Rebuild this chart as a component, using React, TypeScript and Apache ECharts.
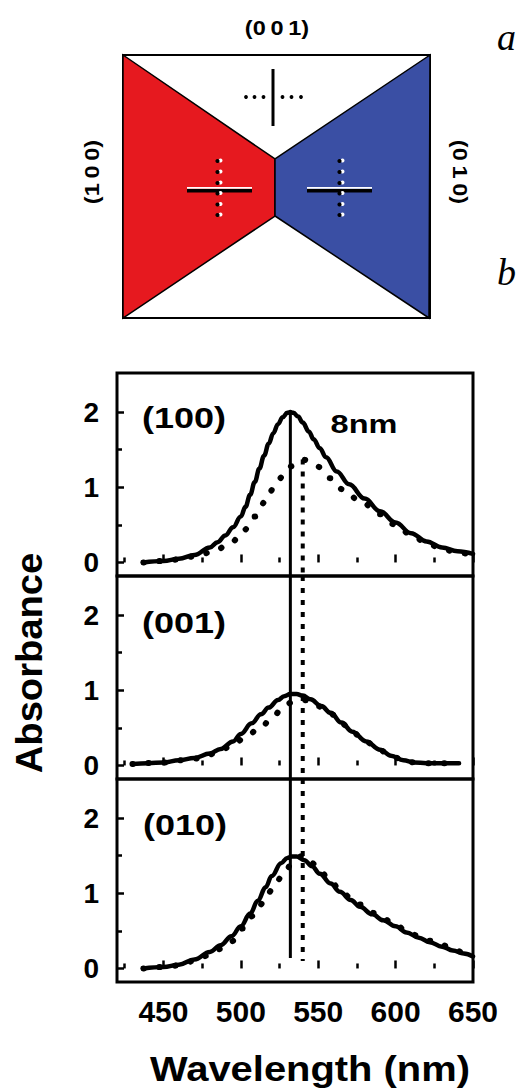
import { useEffect, useRef } from "react";
import * as echarts from "echarts";

// ---- axis settings ----
const X_MIN = 420;
const X_MAX = 650;
const Y_MIN = -0.18;
const Y_MAX = 2.52;
const X_MAJOR = [450, 500, 550, 600, 650];
const X_MINOR = [425, 475, 525, 575, 625];
const Y_MAJOR = [0, 1, 2];
const Y_MINOR = [0.5, 1.5];

const PANEL_LABELS = ["(100)", "(001)", "(010)"];
const SHIFT_LABEL = "8nm";
const X_TITLE = "Wavelength (nm)";
const Y_TITLE = "Absorbance";

// ---- spectra [wavelength nm, absorbance] ----
const S100_SOLID: [number, number][] = [
  [437, 0.0], [450, 0.02], [460, 0.05], [470, 0.1], [480, 0.2], [485, 0.27],
  [490, 0.36], [495, 0.47], [500, 0.61], [503, 0.74], [506, 0.9], [509, 1.07],
  [512, 1.25], [515, 1.42], [518, 1.58], [521, 1.72], [524, 1.84], [527, 1.93],
  [530, 1.99], [532, 2.0], [534, 1.99], [537, 1.94], [540, 1.86], [544, 1.74],
  [547, 1.64], [551, 1.52], [555, 1.4], [562, 1.21], [570, 1.04], [580, 0.85],
  [590, 0.68], [600, 0.53], [610, 0.39], [620, 0.28], [630, 0.2], [640, 0.15],
  [650, 0.115],
];
const S100_DOTTED: [number, number][] = [
  [437, 0.0], [450, 0.02], [460, 0.04], [470, 0.08], [482, 0.14], [494, 0.27],
  [502, 0.43], [509, 0.61], [516, 0.81], [521, 0.98], [527, 1.14], [533, 1.28],
  [540, 1.37], [549, 1.28], [558, 1.12], [566, 0.97], [578, 0.8], [590, 0.64],
  [600, 0.5], [610, 0.37], [620, 0.26], [630, 0.18], [640, 0.13], [650, 0.1],
];
const S001_SOLID: [number, number][] = [
  [430, 0.02], [440, 0.03], [450, 0.04], [460, 0.07], [470, 0.1], [480, 0.16],
  [487, 0.22], [495, 0.32], [500, 0.42], [507, 0.56], [513, 0.68], [518, 0.77],
  [524, 0.87], [528, 0.92], [532, 0.95], [536, 0.95], [540, 0.93], [545, 0.88],
  [552, 0.79], [558, 0.7], [565, 0.57], [572, 0.45], [581, 0.32], [590, 0.21],
  [597, 0.13], [605, 0.07], [612, 0.04], [620, 0.03], [630, 0.03], [641, 0.03],
];
const S001_DOTTED: [number, number][] = [
  [430, 0.02], [450, 0.04], [470, 0.09], [478, 0.13], [485, 0.18], [495, 0.27],
  [503, 0.38], [513, 0.51], [521, 0.66], [527, 0.76], [533, 0.84], [540, 0.87],
  [545, 0.86], [552, 0.78], [558, 0.69], [565, 0.56], [572, 0.44], [581, 0.31],
  [590, 0.2], [597, 0.13], [605, 0.07], [612, 0.04], [620, 0.03], [630, 0.03],
  [641, 0.03],
];
const S010_SOLID: [number, number][] = [
  [437, 0.0], [450, 0.02], [460, 0.05], [470, 0.12], [480, 0.22], [487, 0.31],
  [494, 0.43], [500, 0.56], [506, 0.73], [511, 0.9], [516, 1.08], [520, 1.23],
  [526, 1.4], [530, 1.47], [533, 1.49], [536, 1.49], [541, 1.44], [546, 1.36],
  [551, 1.26], [558, 1.13], [564, 1.02], [571, 0.91], [577, 0.82], [585, 0.72],
  [592, 0.64], [600, 0.56], [607, 0.48], [615, 0.41], [622, 0.35], [630, 0.29],
  [637, 0.24], [644, 0.2], [650, 0.16],
];
const S010_DOTTED: [number, number][] = [
  [437, 0.0], [450, 0.02], [460, 0.04], [470, 0.1], [480, 0.18], [487, 0.26],
  [494, 0.36], [501, 0.53], [508, 0.7], [515, 0.88], [520, 1.04], [527, 1.23],
  [533, 1.39], [540, 1.5], [546, 1.4], [551, 1.3], [558, 1.16], [564, 1.05],
  [571, 0.94], [577, 0.85], [585, 0.74], [592, 0.66], [600, 0.58], [607, 0.5],
  [615, 0.43], [622, 0.37], [630, 0.31], [637, 0.26], [644, 0.21], [650, 0.18],
];

const SOLID_CURVES = [S100_SOLID, S001_SOLID, S010_SOLID];
const DOTTED_CURVES = [S100_DOTTED, S001_DOTTED, S010_DOTTED];

// ---- peak marker lines: wavelength and [from, to] absorbance per panel ----
const SOLID_PEAK_NM = 532;
const DOTTED_PEAK_NM = 540;
const SOLID_MARKER_SPANS: [number, number][] = [[2.0, Y_MIN], [Y_MAX, Y_MIN], [Y_MAX, 0.14]];
const DOTTED_MARKER_SPANS: [number, number][] = [[1.37, Y_MIN], [Y_MAX, Y_MIN], [Y_MAX, 0.1]];

const FONT = '"Liberation Sans", Arial, Helvetica, sans-serif';
const SERIF = '"Liberation Serif", "Times New Roman", serif';

const GRID_TOPS = [373, 576, 779];
const GRID_H = 203;

function text(
  str: string, x: number, y: number, size: number, opts: any = {}
) {
  const align = opts.align || "center";
  const valign = opts.valign || "middle";
  return {
    type: "text",
    x, y,
    rotation: opts.rotation || 0,
    scaleX: opts.scaleX || 1,
    scaleY: opts.scaleY || 1,
    z: 10,
    style: {
      text: str,
      fontSize: size,
      fontWeight: opts.weight || "bold",
      fontStyle: opts.style || "normal",
      fontFamily: opts.family || FONT,
      fill: "#000",
      align, verticalAlign: valign,
      textAlign: align, textVerticalAlign: valign,
    },
  };
}

function diagram(): any[] {
  const TL = [123, 55], TR = [430, 55], BR = [429, 318], BL = [123, 318];
  const PT = [275, 159], PB = [275, 216];
  const els: any[] = [];
  els.push({
    type: "rect", shape: { x: TL[0], y: TL[1], width: TR[0] - TL[0], height: BL[1] - TL[1] },
    style: { fill: "#fff", stroke: "#000", lineWidth: 2 }, z: 1,
  });
  els.push({
    type: "polygon", shape: { points: [TL, PT, PB, BL] },
    style: { fill: "#e6191f", stroke: "#000", lineWidth: 1.5 }, z: 2,
  });
  els.push({
    type: "polygon", shape: { points: [TR, PT, PB, BR] },
    style: { fill: "#3a4fa4", stroke: "#000", lineWidth: 1.5 }, z: 2,
  });
  // top cross (001)
  els.push({ type: "line", shape: { x1: 273, y1: 69, x2: 273, y2: 126 }, style: { stroke: "#000", lineWidth: 3 }, z: 3 });
  [246, 254.5, 263.5, 282.5, 291.5, 301].forEach((cx) =>
    els.push({ type: "circle", shape: { cx, cy: 97, r: 1.9 }, style: { fill: "#000" }, z: 3 })
  );
  // side crosses
  const crosses = [
    { x1: 187, x2: 252, dx: 217.5 },
    { x1: 307, x2: 372, dx: 339.5 },
  ];
  const dotYs = [161, 172, 183, 193.5, 204.5, 215];
  crosses.forEach((c) => {
    els.push({ type: "line", shape: { x1: c.x1, y1: 187.8, x2: c.x2, y2: 187.8 }, style: { stroke: "#fff", lineWidth: 1.8 }, z: 3 });
    els.push({ type: "line", shape: { x1: c.x1, y1: 190.8, x2: c.x2, y2: 190.8 }, style: { stroke: "#000", lineWidth: 3.4 }, z: 4 });
    dotYs.forEach((cy) => {
      els.push({ type: "circle", shape: { cx: c.dx + 3, cy: cy - 0.5, r: 2 }, style: { fill: "#fff" }, z: 5 });
      els.push({ type: "circle", shape: { cx: c.dx, cy, r: 2.1 }, style: { fill: "#000" }, z: 6 });
    });
  });
  els.push(text("(0\u20090\u20091)", 277, 28, 21, { scaleX: 1.12 }));
  els.push(text("(1\u20090\u20090)", 92, 172, 21, { rotation: Math.PI / 2, scaleX: 1.12 }));
  els.push(text("(0\u20091\u20090)", 460, 172, 21, { rotation: -Math.PI / 2, scaleX: 1.12 }));
  els.push(text("a", 497, 37, 38, { align: "left", weight: "normal", style: "italic", family: SERIF }));
  els.push(text("b", 497, 272, 38, { align: "left", weight: "normal", style: "italic", family: SERIF }));
  return els;
}

function buildOption(): any {
  const grid = GRID_TOPS.map((top) => ({
    left: 117, right: 47, top, height: GRID_H,
    show: true, borderColor: "#000", borderWidth: 3, backgroundColor: "transparent",
    containLabel: false,
  }));
  const xAxis: any[] = [];
  const yAxis: any[] = [];
  GRID_TOPS.forEach((_, i) => {
    const last = i === GRID_TOPS.length - 1;
    xAxis.push({
      gridIndex: i, type: "value", min: X_MIN, max: X_MAX, position: "bottom",
      axisLine: { show: false }, splitLine: { show: false },
      axisTick: { show: true, inside: true, length: 8, customValues: X_MAJOR, lineStyle: { color: "#000", width: 2.5 } },
      axisLabel: {
        show: last, customValues: X_MAJOR, fontSize: 30, fontWeight: "bold",
        fontFamily: FONT, color: "#000", margin: 14,
      },
    });
    xAxis.push({
      gridIndex: i, type: "value", min: X_MIN, max: X_MAX, position: "bottom",
      axisLine: { show: false }, splitLine: { show: false },
      axisTick: { show: true, inside: true, length: 5, customValues: X_MINOR, lineStyle: { color: "#000", width: 2.5 } },
      axisLabel: { show: false },
    });
    yAxis.push({
      gridIndex: i, type: "value", min: Y_MIN, max: Y_MAX, position: "left",
      axisLine: { show: false }, splitLine: { show: false },
      axisTick: { show: true, inside: true, length: 7, customValues: Y_MAJOR, lineStyle: { color: "#000", width: 2.5 } },
      axisLabel: {
        show: true, customValues: Y_MAJOR, fontSize: 28, fontWeight: "bold",
        fontFamily: FONT, color: "#000", margin: 18,
      },
    });
    yAxis.push({
      gridIndex: i, type: "value", min: Y_MIN, max: Y_MAX, position: "left",
      axisLine: { show: false }, splitLine: { show: false },
      axisTick: { show: true, inside: true, length: 5, customValues: Y_MINOR, lineStyle: { color: "#000", width: 2.5 } },
      axisLabel: { show: false },
    });
  });

  const series: any[] = [];
  GRID_TOPS.forEach((_, i) => {
    const ax = { xAxisIndex: i * 2, yAxisIndex: i * 2 };
    series.push({
      type: "line", ...ax, data: DOTTED_CURVES[i], smooth: 0.4, smoothMonotone: "x", showSymbol: false,
      lineStyle: { color: "#000", width: 6, type: [0.5, 15.5], cap: "round" }, z: 3,
    });
    series.push({
      type: "line", ...ax, data: SOLID_CURVES[i], smooth: 0.4, smoothMonotone: "x", showSymbol: false,
      lineStyle: { color: "#000", width: 4.5, cap: "round", join: "round" }, z: 4,
    });
    series.push({
      type: "line", ...ax, showSymbol: false,
      data: SOLID_MARKER_SPANS[i].map((v) => [SOLID_PEAK_NM, v]),
      lineStyle: { color: "#000", width: 3 }, z: 5,
    });
    series.push({
      type: "line", ...ax, showSymbol: false,
      data: DOTTED_MARKER_SPANS[i].map((v) => [DOTTED_PEAK_NM, v]),
      lineStyle: { color: "#000", width: 4, type: [5, 7] }, z: 5,
    });
  });

  const graphic: any[] = [
    ...diagram(),
    text(PANEL_LABELS[0], 184, 418, 30, { scaleX: 1.2 }),
    text(PANEL_LABELS[1], 184, 623, 30, { scaleX: 1.2 }),
    text(PANEL_LABELS[2], 185, 825, 30, { scaleX: 1.2 }),
    text(SHIFT_LABEL, 364, 424, 26, { scaleX: 1.25 }),
    text(Y_TITLE, 29, 663, 36, { rotation: Math.PI / 2, scaleX: 1.06 }),
    text(X_TITLE, 310, 1069, 35, { scaleX: 1.14 }),
  ];

  return {
    animation: false,
    backgroundColor: "#fff",
    grid, xAxis, yAxis, series, graphic,
  };
}

export default function App() {
  const ref = useRef<HTMLDivElement>(null);
  useEffect(() => {
    if (!ref.current) return;
    const chart = echarts.init(ref.current, undefined, { renderer: "svg", width: 520, height: 1091 });
    chart.setOption(buildOption());
    return () => chart.dispose();
  }, []);
  return (
    <div
      ref={ref}
      style={{ position: "absolute", left: 0, top: 0, width: 520, height: 1091, background: "#fff" }}
    />
  );
}
